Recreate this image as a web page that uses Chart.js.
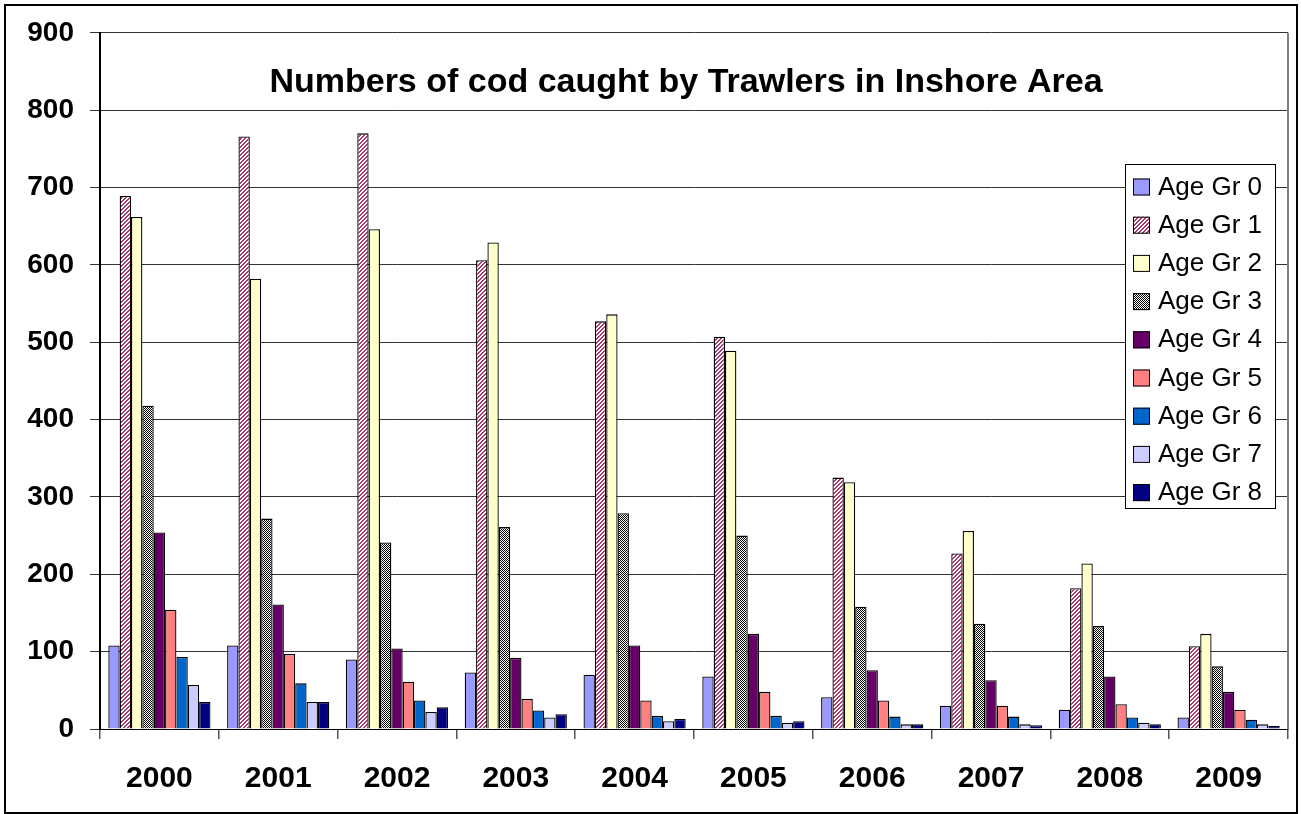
<!DOCTYPE html>
<html>
<head>
<meta charset="utf-8">
<script src="https://cdn.jsdelivr.net/npm/chart.js@4.4.1/dist/chart.umd.min.js"></script>
<style>
    html, body { margin: 0; padding: 0; background: #fff; }
    #wrap { width: 1301px; height: 814px; }
</style>
</head>
<body>
<div id="wrap"><canvas id="codChart" width="1301" height="814"></canvas></div>
<script>
// Chart data
const years = ['2000', '2001', '2002', '2003', '2004', '2005', '2006', '2007', '2008', '2009'];
const ageGr0 = [108, 108, 90, 73, 70, 68, 41, 30, 25, 15];
const ageGr1 = [689, 766, 770, 606, 527, 507, 325, 227, 182, 107];
const ageGr2 = [662, 582, 646, 629, 536, 489, 319, 256, 214, 123];
const ageGr3 = [418, 272, 241, 261, 279, 250, 158, 136, 133, 81];
const ageGr4 = [254, 161, 104, 92, 108, 123, 76, 63, 68, 48];
const ageGr5 = [154, 97, 61, 39, 37, 48, 37, 30, 32, 25];
const ageGr6 = [93, 59, 37, 24, 17, 17, 16, 16, 15, 12];
const ageGr7 = [57, 35, 22, 15, 10, 8, 6, 6, 8, 6];
const ageGr8 = [35, 35, 28, 19, 13, 10, 6, 5, 6, 4];
const yTicks = [0, 100, 200, 300, 400, 500, 600, 700, 800, 900];
const seriesNames = ['Age Gr 0', 'Age Gr 1', 'Age Gr 2', 'Age Gr 3', 'Age Gr 4', 'Age Gr 5', 'Age Gr 6', 'Age Gr 7', 'Age Gr 8'];
const titleText = 'Numbers of cod caught by Trawlers in Inshore Area';

// Fill patterns like the old Excel hatches
function makeHatch() {
    const c = document.createElement('canvas');
    c.width = 4; c.height = 4;
    const g = c.getContext('2d');
    g.fillStyle = '#ffffff';
    g.fillRect(0, 0, 4, 4);
    g.fillStyle = '#a8386e';
    for (let x = 0; x < 4; x++) {
        for (let y = 0; y < 4; y++) {
            if ((x + y) % 4 === 2 || (x + y) % 4 === 3) g.fillRect(x, y, 1, 1);
        }
    }
    return g.createPattern(c, 'repeat');
}

function makeChecker() {
    const c = document.createElement('canvas');
    c.width = 2; c.height = 2;
    const g = c.getContext('2d');
    g.fillStyle = '#ffffff';
    g.fillRect(0, 0, 2, 2);
    g.fillStyle = '#000000';
    g.fillRect(0, 0, 1, 1);
    g.fillRect(1, 1, 1, 1);
    return g.createPattern(c, 'repeat');
}

const fills = ['#9999ff', makeHatch(), '#ffffcc', makeChecker(), '#660066', '#ff8080', '#0066cc', '#ccccff', '#000080'];
const allSeries = [ageGr0, ageGr1, ageGr2, ageGr3, ageGr4, ageGr5, ageGr6, ageGr7, ageGr8];

// Frame, title, right edge and legend box drawn on top
const decorPlugin = {
    id: 'decor',
    afterDraw(chart) {
        const ctx = chart.ctx;
        const area = chart.chartArea;
        ctx.save();

        // plot right edge
        ctx.strokeStyle = '#808080';
        ctx.lineWidth = 2;
        ctx.beginPath();
        ctx.moveTo(area.right, area.top);
        ctx.lineTo(area.right, area.bottom);
        ctx.stroke();

        // outer frame
        ctx.strokeStyle = '#000';
        ctx.lineWidth = 2;
        ctx.strokeRect(5, 5, 1292, 808);

        // title
        ctx.fillStyle = '#000';
        ctx.font = 'bold 34px Arial, "Liberation Sans", sans-serif';
        ctx.textAlign = 'center';
        ctx.textBaseline = 'middle';
        ctx.fillText(titleText, 686, 83);

        // legend
        const lx = 1125, ly = 164, lw = 150, lh = 344;
        ctx.fillStyle = '#fff';
        ctx.fillRect(lx, ly, lw, lh);
        ctx.strokeStyle = '#000';
        ctx.lineWidth = 1;
        ctx.strokeRect(lx + 0.5, ly + 0.5, lw, lh);
        ctx.font = '26px Arial, "Liberation Sans", sans-serif';
        ctx.textAlign = 'left';
        chart.data.datasets.forEach((ds, i) => {
            const cy = 186.5 + i * 38.2;
            ctx.fillStyle = ds.backgroundColor;
            ctx.fillRect(1133, cy - 8, 17, 17);
            ctx.strokeStyle = '#000';
            ctx.strokeRect(1133.5, cy - 7.5, 16, 16);
            ctx.fillStyle = '#000';
            ctx.fillText(ds.label, 1158, cy + 1);
        });
        ctx.restore();
    }
};

const ctx = document.getElementById('codChart').getContext('2d');
const codChart = new Chart(ctx, {
    type: 'bar',
    data: {
        labels: years,
        datasets: allSeries.map((values, i) => ({
            label: seriesNames[i],
            data: values,
            backgroundColor: fills[i],
            borderColor: '#000',
            borderWidth: 1.3,
            borderSkipped: 'bottom'
        }))
    },
    options: {
        responsive: false,
        animation: false,
        devicePixelRatio: 1,
        layout: { padding: { left: 0, top: 32, right: 13, bottom: 0 } },
        datasets: {
            bar: { categoryPercentage: 0.86, barPercentage: 1 }
        },
        scales: {
            x: {
                grid: { display: true, offset: true, drawOnChartArea: false, tickLength: 10, color: '#555', lineWidth: 1.5 },
                border: { display: true, color: '#000', width: 1 },
                ticks: {
                    color: '#000',
                    padding: 22,
                    maxRotation: 0,
                    font: { family: 'Arial, "Liberation Sans", sans-serif', size: 30, weight: 'bold' }
                },
                afterFit(scale) { scale.height = 85; }
            },
            y: {
                min: 0,
                max: 900,
                afterBuildTicks(scale) { scale.ticks = yTicks.map(v => ({ value: v })); },
                grid: { color: '#333', lineWidth: 1, tickLength: 10 },
                border: { display: true, color: '#000', width: 2 },
                ticks: {
                    color: '#000',
                    padding: 16,
                    font: { family: 'Arial, "Liberation Sans", sans-serif', size: 28, weight: 'bold' }
                },
                afterFit(scale) { scale.width = 100; }
            }
        },
        plugins: {
            legend: { display: false },
            title: { display: false },
            tooltip: { enabled: false }
        }
    },
    plugins: [decorPlugin]
});
</script>
</body>
</html>
